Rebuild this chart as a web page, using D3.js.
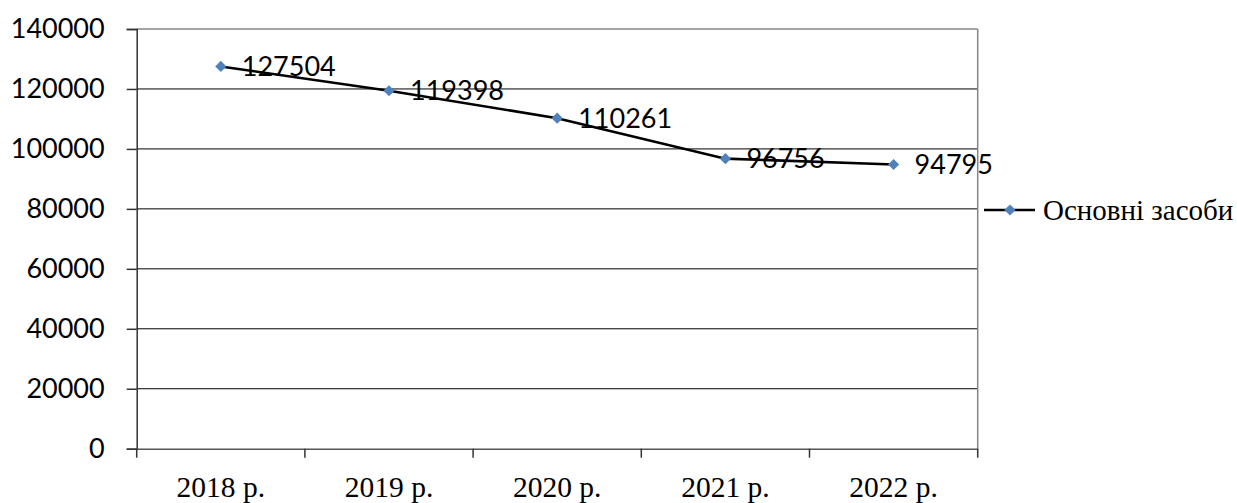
<!DOCTYPE html>
<html><head><meta charset="utf-8">
<script src="https://cdn.jsdelivr.net/npm/d3@7"></script>
<style>body{margin:0;background:#fff}svg{display:block}</style>
</head><body>
<script>
const categories = ["2018 р.","2019 р.","2020 р.","2021 р.","2022 р."];
const values = [127504,119398,110261,96756,94795];
const yTicks = [0,20000,40000,60000,80000,100000,120000,140000];
const seriesName = "Основні засоби";

const W=1237,H=503;
const L=136.7,R=977.7,T=29,B=448.7;
const svg=d3.select("body").append("svg").attr("width",W).attr("height",H);
const x=d3.scaleBand().domain(categories).range([L,R]);
const y=d3.scaleLinear().domain([0,140000]).range([B,T]);

// gridlines
svg.append("g").selectAll("line").data(yTicks.filter(d=>d>0 && d<140000)).join("line")
 .attr("x1",L).attr("x2",R).attr("y1",d=>y(d)).attr("y2",d=>y(d))
 .attr("stroke","#000").attr("stroke-width",1);
// border top/right
svg.append("line").attr("x1",L).attr("x2",R).attr("y1",T).attr("y2",T).attr("stroke","#868686").attr("stroke-width",1.5);
svg.append("line").attr("x1",R).attr("x2",R).attr("y1",T).attr("y2",B).attr("stroke","#868686").attr("stroke-width",1.5);

// y axis
const ya=svg.append("g").attr("transform",`translate(${L},0)`)
 .call(d3.axisLeft(y).tickValues(yTicks).tickSize(10).tickPadding(22).tickFormat(d3.format("d")));
ya.select(".domain").attr("stroke","#333").attr("stroke-width",1.5);
ya.selectAll(".tick line").attr("stroke","#333").attr("stroke-width",1.5);
ya.selectAll("text").attr("font-family","Lato, 'Liberation Sans', sans-serif").attr("font-size",27).attr("fill","#000");

// x axis
const xa=svg.append("g").attr("transform",`translate(0,${B})`)
 .call(d3.axisBottom(x).tickSize(0).tickPadding(27));
xa.select(".domain").attr("stroke","#555").attr("stroke-width",1.5);
xa.selectAll("text").attr("font-family","'Liberation Serif', serif").attr("font-size",29.5).attr("fill","#000");
const bounds=[...categories.map(c=>x(c)),R];
svg.append("g").selectAll("line").data(bounds).join("line")
 .attr("x1",d=>d).attr("x2",d=>d).attr("y1",B).attr("y2",B+9).attr("stroke","#333").attr("stroke-width",1.5);

// line
const cx=(c)=>x(c)+x.bandwidth()/2;
svg.append("path").datum(values)
 .attr("d",d3.line().x((d,i)=>cx(categories[i])).y(d=>y(d)))
 .attr("fill","none").attr("stroke","#000").attr("stroke-width",2.6);
const diamond=d3.symbol().type(d3.symbolDiamond2).size(80);
svg.append("g").selectAll("path").data(values).join("path")
 .attr("d",diamond).attr("transform",(d,i)=>`translate(${cx(categories[i])},${y(d)})`)
 .attr("fill","#4F81BD");
// data labels
svg.append("g").selectAll("text").data(values).join("text")
 .attr("x",(d,i)=>cx(categories[i])+21).attr("y",d=>y(d)).attr("dy","0.36em")
 .attr("font-family","Lato, 'Liberation Sans', sans-serif").attr("font-size",27).attr("fill","#000")
 .text(d=>d);

// legend
const lg=svg.append("g");
lg.append("line").attr("x1",984).attr("x2",1035).attr("y1",210).attr("y2",210).attr("stroke","#000").attr("stroke-width",2.6);
lg.append("path").attr("d",diamond).attr("transform","translate(1010,210)").attr("fill","#4F81BD");
lg.append("text").attr("x",1043).attr("y",220).attr("font-family","'Liberation Serif', serif").attr("font-size",29).attr("fill","#000").text(seriesName);
</script>
</body></html>
